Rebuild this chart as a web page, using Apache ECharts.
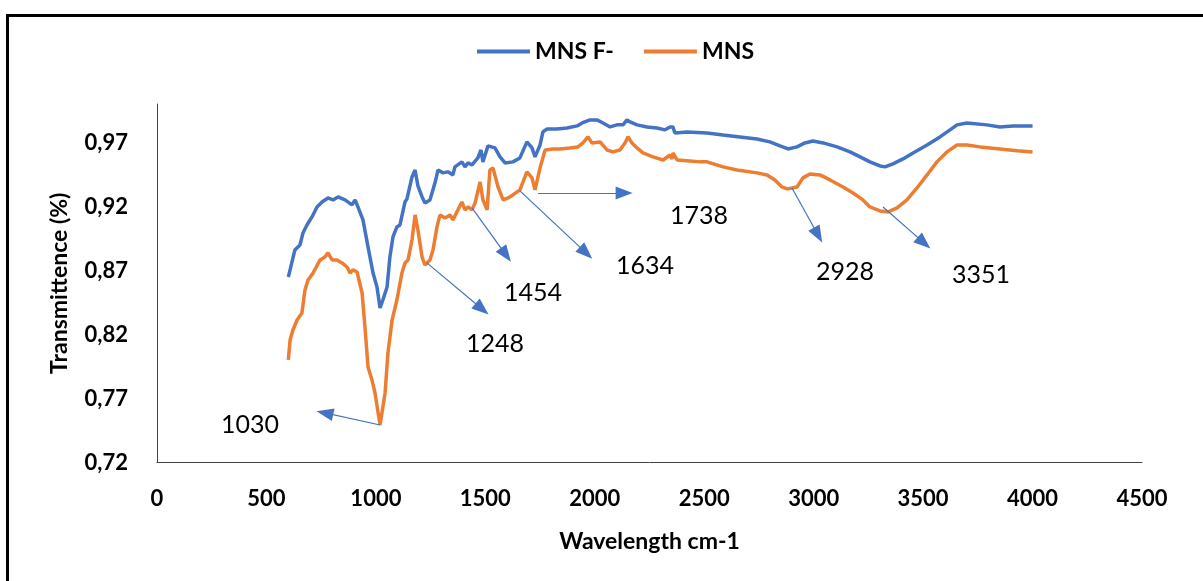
<!DOCTYPE html>
<html>
<head>
<meta charset="utf-8">
<script src="https://cdn.jsdelivr.net/npm/echarts@6/dist/echarts.min.js"></script>
<style>
  html, body { margin: 0; padding: 0; background: #fff; }
  #chart { width: 1203px; height: 581px; }
</style>
</head>
<body>
<div id="chart"></div>
<script>
// ---- Data (wavenumber cm-1, transmittance) ----
const mnsFWavenumber = [600,608,630,653,667,685,708,731,754,781,804,827,859,891,905,918,941,964,987,1005,1019,1032,1051,1064,1078,1096,1110,1133,1142,1165,1179,1192,1211,1224,1247,1270,1284,1307,1329,1352,1361,1393,1407,1421,1439,1466,1480,1489,1512,1544,1567,1590,1626,1658,1690,1713,1727,1750,1763,1782,1827,1873,1919,1942,1978,2010,2038,2070,2101,2129,2147,2161,2193,2239,2284,2321,2344,2357,2366,2421,2513,2586,2663,2741,2800,2846,2883,2924,2960,2997,3043,3107,3166,3212,3257,3303,3326,3362,3408,3454,3518,3577,3623,3655,3700,3792,3851,3911,4000];
const mnsFValues = [0.8649,0.8704,0.8860,0.8899,0.8993,0.9055,0.9118,0.9196,0.9235,0.9266,0.9251,0.9274,0.9251,0.9212,0.9251,0.9196,0.9095,0.8884,0.8680,0.8571,0.8407,0.8469,0.8571,0.8805,0.8962,0.9040,0.9055,0.9235,0.9259,0.9430,0.9485,0.9360,0.9274,0.9227,0.9251,0.9384,0.9485,0.9462,0.9470,0.9446,0.9509,0.9548,0.9509,0.9540,0.9524,0.9579,0.9641,0.9548,0.9673,0.9657,0.9587,0.9540,0.9548,0.9579,0.9704,0.9657,0.9587,0.9680,0.9782,0.9805,0.9805,0.9813,0.9829,0.9852,0.9876,0.9876,0.9852,0.9821,0.9837,0.9837,0.9876,0.9860,0.9837,0.9821,0.9813,0.9798,0.9821,0.9821,0.9774,0.9782,0.9774,0.9758,0.9743,0.9727,0.9704,0.9673,0.9649,0.9665,0.9696,0.9711,0.9696,0.9665,0.9626,0.9587,0.9548,0.9516,0.9509,0.9532,0.9571,0.9618,0.9680,0.9743,0.9798,0.9837,0.9852,0.9837,0.9821,0.9829,0.9829];

const mnsWavenumber = [600,608,621,640,662,676,690,713,745,767,781,800,822,845,868,882,895,914,937,950,964,982,996,1019,1042,1055,1074,1096,1119,1133,1147,1165,1179,1192,1211,1224,1247,1261,1279,1293,1316,1339,1352,1375,1393,1407,1421,1439,1453,1476,1489,1508,1521,1535,1558,1581,1604,1626,1658,1690,1713,1727,1750,1773,1809,1841,1887,1923,1946,1969,1987,2024,2056,2083,2115,2138,2152,2170,2193,2220,2266,2312,2344,2353,2357,2376,2435,2481,2513,2586,2650,2741,2787,2823,2855,2878,2901,2924,2951,2983,3029,3075,3134,3180,3225,3257,3303,3340,3381,3426,3472,3518,3563,3609,3655,3700,3760,3851,3929,4000];
const mnsValues = [0.8001,0.8157,0.8235,0.8313,0.8368,0.8548,0.8626,0.8680,0.8782,0.8805,0.8837,0.8782,0.8782,0.8759,0.8727,0.8680,0.8704,0.8688,0.8524,0.8259,0.7946,0.7845,0.7743,0.7493,0.7743,0.8055,0.8313,0.8469,0.8680,0.8759,0.8782,0.8938,0.9134,0.9016,0.8805,0.8743,0.8782,0.8860,0.9040,0.9134,0.9110,0.9134,0.9095,0.9173,0.9235,0.9173,0.9196,0.9173,0.9227,0.9391,0.9251,0.9173,0.9485,0.9501,0.9352,0.9251,0.9266,0.9290,0.9329,0.9470,0.9423,0.9329,0.9501,0.9641,0.9649,0.9649,0.9657,0.9665,0.9696,0.9743,0.9696,0.9704,0.9641,0.9626,0.9641,0.9696,0.9743,0.9696,0.9657,0.9618,0.9587,0.9563,0.9602,0.9571,0.9618,0.9563,0.9555,0.9548,0.9548,0.9509,0.9485,0.9462,0.9446,0.9407,0.9352,0.9337,0.9344,0.9352,0.9423,0.9454,0.9446,0.9407,0.9352,0.9305,0.9251,0.9196,0.9165,0.9157,0.9188,0.9251,0.9344,0.9446,0.9548,0.9626,0.9680,0.9680,0.9665,0.9649,0.9634,0.9626];

const seriesNames = ['MNS F-', 'MNS'];
const peakLabels = ['1030', '1248', '1454', '1634', '1738', '2928', '3351'];

// ---- Annotation layout (in data space) ----
const arrowStart = [[1019,0.7493],[1233,0.8759],[1439,0.9188],[1658,0.9321],[1741,0.9305],[2901,0.9344],[3317,0.9196]];
const arrowEnd   = [[767,0.7587],[1485,0.8399],[1594,0.8821],[1960,0.8837],[2134,0.9305],[3020,0.8977],[3504,0.8915]];
const labelPos   = [[425,0.7493],[1544,0.8126],[1718,0.8524],[2229,0.8735],[2476,0.9126],[3143,0.8688],[3764,0.8665]];

const zip = (xs, ys) => xs.map((x, i) => [x, ys[i]]);

const FONT = 'Lato, "Open Sans", sans-serif';
const BLUE = '#4472C4';
const ORANGE = '#ED7D31';

const chart = echarts.init(document.getElementById('chart'), null, { renderer: 'canvas' });

chart.setOption({
  animation: false,
  backgroundColor: '#ffffff',
  graphic: [{
    type: 'rect',
    left: 5, top: 13,
    shape: { width: 1220, height: 600 },
    style: { fill: 'none', stroke: '#000', lineWidth: 3 },
    silent: true
  }],
  legend: {
    top: 40,
    left: 477,
    padding: 0,
    data: seriesNames,
    icon: 'rect',
    itemWidth: 53,
    itemHeight: 4,
    itemGap: 30,
    textStyle: { fontFamily: FONT, fontWeight: 'bold', fontSize: 23, color: '#000' }
  },
  grid: { left: 157, right: 61, top: 104, bottom: 118.5, containLabel: false },
  xAxis: {
    type: 'value',
    min: 0, max: 4500, interval: 500,
    name: 'Wavelength cm-1',
    nameLocation: 'middle',
    nameGap: 68,
    nameTextStyle: { fontFamily: FONT, fontWeight: 'bold', fontSize: 23, color: '#000' },
    axisLine: { show: true, lineStyle: { color: '#404040', width: 1 } },
    axisTick: { show: false },
    splitLine: { show: false },
    axisLabel: {
      margin: 25, fontFamily: FONT, fontWeight: 'bold', fontSize: 22, color: '#000',
      formatter: v => String(Math.round(v))
    }
  },
  yAxis: {
    type: 'value',
    min: 0.72, max: 1.0, interval: 0.05,
    name: 'Transmittence (%)',
    nameLocation: 'middle',
    nameGap: 86,
    nameRotate: 90,
    nameTextStyle: { fontFamily: FONT, fontWeight: 'bold', fontSize: 23, color: '#000' },
    axisLine: { show: true, lineStyle: { color: '#404040', width: 1 } },
    axisTick: { show: false },
    splitLine: { show: false },
    axisLabel: {
      margin: 29, fontFamily: FONT, fontWeight: 'bold', fontSize: 22, color: '#000',
      formatter: v => (v > 0.99 ? '' : v.toFixed(2).replace('.', ','))
    }
  },
  series: [
    {
      name: seriesNames[0],
      type: 'line',
      data: zip(mnsFWavenumber, mnsFValues),
      showSymbol: false,
      smooth: false,
      lineStyle: { color: BLUE, width: 3.5 },
      itemStyle: { color: BLUE },
      z: 3
    },
    {
      name: seriesNames[1],
      type: 'line',
      data: zip(mnsWavenumber, mnsValues),
      showSymbol: false,
      smooth: false,
      lineStyle: { color: ORANGE, width: 3.5 },
      itemStyle: { color: ORANGE },
      z: 3,
      markLine: {
        silent: true,
        symbol: ['none', 'triangle'],
        symbolSize: [13, 17],
        label: { show: false },
        lineStyle: { color: BLUE, width: 1.2, type: 'solid' },
        data: arrowStart.map((s, i) => [{ coord: s }, { coord: arrowEnd[i] }])
      },
      markPoint: {
        silent: true,
        symbol: 'circle',
        symbolSize: 0,
        itemStyle: { color: 'transparent' },
        label: {
          show: true,
          position: 'inside',
          fontFamily: FONT,
          fontSize: 25,
          color: '#000',
          formatter: p => p.name
        },
        data: labelPos.map((c, i) => ({ name: peakLabels[i], coord: c }))
      }
    }
  ]
});
</script>
</body>
</html>
